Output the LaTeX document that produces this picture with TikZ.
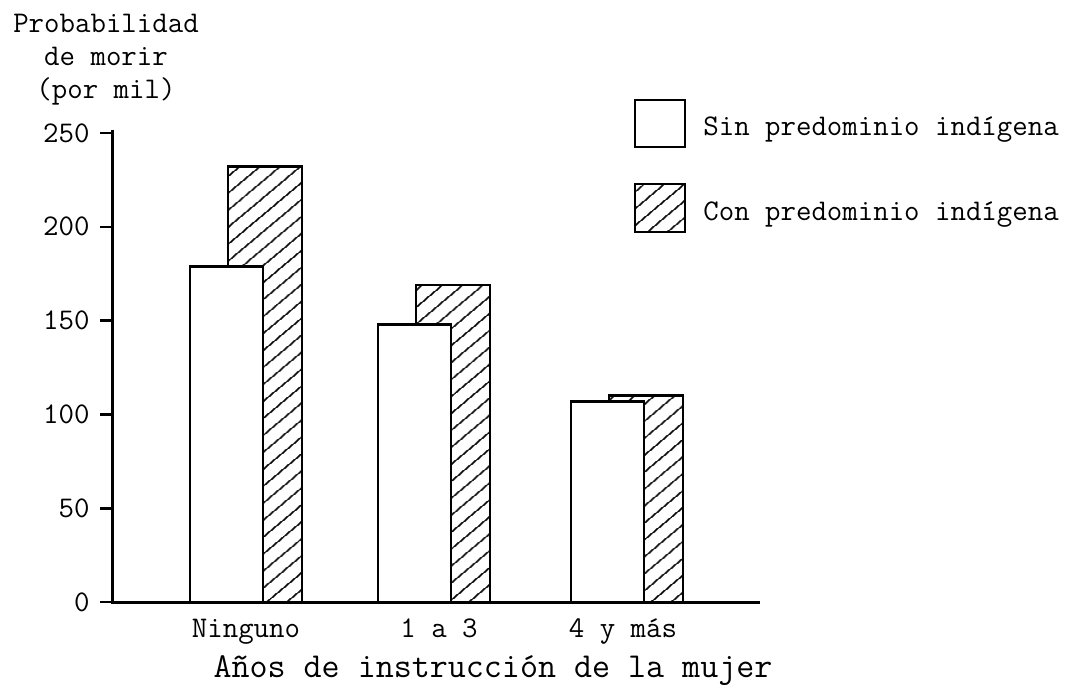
\documentclass[tikz,border=0pt]{standalone}
\usepackage{fontspec}
\usetikzlibrary{patterns.meta}

\begin{document}
\begin{tikzpicture}[x=0.5pt,y=0.938pt,
    font=\ttfamily\fontsize{15}{16.5}\selectfont,
    barw/.style={draw,line width=1.4pt,fill=white},
    barh/.style={draw,line width=1.4pt,pattern={Lines[angle=40,distance=6.5pt,line width=0.9pt]}},
    lbl/.style={inner sep=0pt}]
  \useasboundingbox (-112,-46.9) rectangle (962,320.9);
  % The bars (hatched ones behind)
  \foreach \xx/\hw/\hh in {78/179/232,266/148/169,459/107/110}
  {
    \draw[barh] (\xx+38,0) rectangle (\xx+112,\hh);
    \draw[barw] (\xx,0) rectangle (\xx+73,\hw);
  }
  % The axes
  \draw[line width=1.5pt] (0,251.6) -- (0,0) -- (648,0);
  % The ticks
  \foreach \v in {0,50,...,250}
  {
    \draw[line width=1.3pt] (-12,\v) -- (0,\v);
    \node[lbl,anchor=east] (t\v) at (-22,\v) {\v};
  }
  % The labels
  \node[lbl,align=center] (ylab) at (-6,288.9) {Probabilidad\\de morir\\(por mil)};
  \node[lbl,anchor=base] (ninguno) at (134,-18.7) {Ninguno};
  \node[lbl,anchor=base] (unoatres) at (327,-18.7) {1 a 3};
  \node[lbl,anchor=base] (cuatro) at (511,-18.7) {4 y más};
  \node[lbl,anchor=base,font=\ttfamily\fontsize{17.5}{20}\selectfont] (titulo) at (381,-40.5) {Años de instrucción de la mujer};
  % The legend
  \draw[barw] (523,242.5) rectangle (573,267.6);
  \draw[barh] (523,197.2) rectangle (573,222.8);
  \node[lbl,anchor=base west] (sin) at (591,248.9) {Sin predominio indígena};
  \node[lbl,anchor=base west] (con) at (591,203.6) {Con predominio indígena};
\end{tikzpicture}
\end{document}
